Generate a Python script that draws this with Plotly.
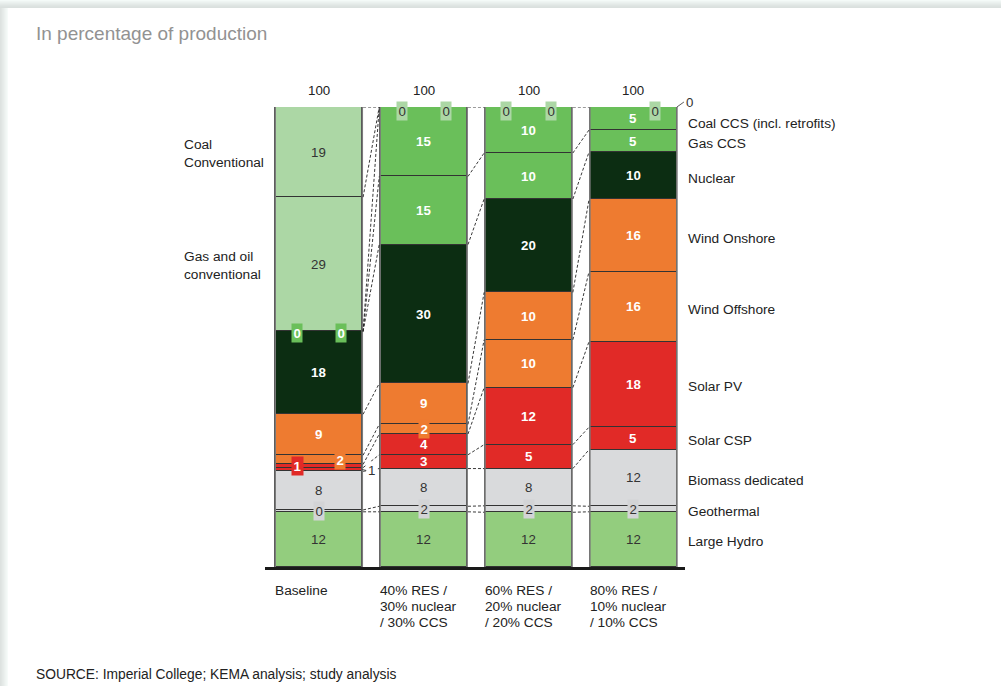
import plotly.graph_objects as go

# ---------------- data ----------------
columns = ["Baseline",
           "40% RES /<br>30% nuclear<br>/ 30% CCS",
           "60% RES /<br>20% nuclear<br>/ 20% CCS",
           "80% RES /<br>10% nuclear<br>/ 10% CCS"]
totals = ["100", "100", "100", "100"]

# stacked bottom -> top
large_hydro   = [12.0, 12.0, 11.9, 12.0]
geothermal    = [0.4, 1.2, 1.4, 1.2]
biomass       = [8.4, 8.2, 8.1, 12.3]
solar_csp     = [0.8, 3.0, 5.2, 4.9]
solar_pv      = [0.7, 4.5, 12.4, 18.6]
wind_offshore = [2.0, 2.1, 10.4, 15.2]
wind_onshore  = [8.9, 8.9, 10.3, 15.7]
nuclear       = [18.0, 30.2, 20.3, 10.3]
gas_ccs       = [0.0, 14.8, 10.0, 4.8]
coal_ccs      = [0.0, 15.1, 10.0, 5.0]
gas_oil_conv  = [29.2, 0.0, 0.0, 0.0]
coal_conv     = [19.6, 0.0, 0.0, 0.0]

# displayed (rounded) labels
lbl_large_hydro   = ["12", "12", "12", "12"]
lbl_geothermal    = ["0", "2", "2", "2"]
lbl_biomass       = ["8", "8", "8", "12"]
lbl_solar_csp     = ["1", "3", "5", "5"]
lbl_solar_pv      = ["1", "4", "12", "18"]
lbl_wind_offshore = ["2", "2", "10", "16"]
lbl_wind_onshore  = ["9", "9", "10", "16"]
lbl_nuclear       = ["18", "30", "20", "10"]
lbl_gas_ccs       = ["0", "15", "10", "5"]
lbl_coal_ccs      = ["0", "15", "10", "5"]
lbl_gas_oil_conv  = ["29", "0", "0", "0"]
lbl_coal_conv     = ["19", "0", "0", "0"]

right_names = ["Large Hydro", "Geothermal", "Biomass dedicated", "Solar CSP",
               "Solar PV", "Wind Offshore", "Wind Onshore", "Nuclear",
               "Gas CCS", "Coal CCS (incl. retrofits)"]
left_names = ["Gas and oil<br>conventional", "Coal<br>Conventional"]

title_text = "In percentage of production"
source_text = "SOURCE: Imperial College; KEMA analysis; study analysis"

# ---------------- styles ----------------
FONT = "Liberation Sans, Arial, sans-serif"
W, H = 1001, 686
L, T, R, B = 256, 107, 305, 119
PW, PH = W - L - R, H - T - B
BAR_W = 0.83
XR = [-0.598, 3.597]
FS = 13.7      # label text size
FSN = 13.3     # number size

C_LIGHTGREEN = "#acd7a5"
C_CCS = "#6abf5a"
C_NUC = "#0c2d12"
C_ORANGE = "#ee7b30"
C_RED = "#e12a27"
C_GRAY = "#d9dadc"
C_HYDRO = "#93cd7e"

series = [
    ("Large Hydro", large_hydro, lbl_large_hydro, C_HYDRO, "dark"),
    ("Geothermal", geothermal, lbl_geothermal, C_GRAY, "dark"),
    ("Biomass dedicated", biomass, lbl_biomass, C_GRAY, "dark"),
    ("Solar CSP", solar_csp, lbl_solar_csp, C_RED, "light"),
    ("Solar PV", solar_pv, lbl_solar_pv, C_RED, "light"),
    ("Wind Offshore", wind_offshore, lbl_wind_offshore, C_ORANGE, "light"),
    ("Wind Onshore", wind_onshore, lbl_wind_onshore, C_ORANGE, "light"),
    ("Nuclear", nuclear, lbl_nuclear, C_NUC, "light"),
    ("Gas CCS", gas_ccs, lbl_gas_ccs, C_CCS, "light"),
    ("Coal CCS", coal_ccs, lbl_coal_ccs, C_CCS, "light"),
    ("Gas and oil conventional", gas_oil_conv, lbl_gas_oil_conv, C_LIGHTGREEN, "dark"),
    ("Coal conventional", coal_conv, lbl_coal_conv, C_LIGHTGREEN, "dark"),
]

xs = list(range(len(columns)))

def px_x(p):
    return (p - L) / PW

def px_y(p):
    return (H - B - p) / PH

fig = go.Figure()

# card background / shadow
shapes = []
for j in range(8):
    g = int(224 + (255 - 224) * (j / 8.0) ** 1.2)
    col = "rgb(%d,%d,%d)" % (g - 6, g, g - 2)
    shapes.append(dict(type="rect", xref="paper", yref="paper",
                       x0=px_x(0), x1=px_x(W), y0=px_y(8 - j), y1=px_y(7 - j),
                       fillcolor=col, line=dict(width=0), layer="below"))
for j in range(8):
    g = int(226 + (255 - 226) * (j / 8.0))
    col = "rgb(%d,%d,%d)" % (g - 5, g, g - 2)
    shapes.append(dict(type="rect", xref="paper", yref="paper",
                       x0=px_x(j), x1=px_x(j + 1), y0=px_y(H), y1=px_y(8),
                       fillcolor=col, line=dict(width=0), layer="below"))

# bars
for name, vals, lbls, color, tone in series:
    fig.add_trace(go.Bar(x=xs, y=vals, width=BAR_W, name=name,
                         marker=dict(color=color, line=dict(color="#333333", width=1)),
                         hoverinfo="name+y", showlegend=False))

# cumulative tops
cum_top = []
running = [0.0] * len(xs)
for name, vals, lbls, color, tone in series:
    bottoms = running[:]
    running = [running[i] + vals[i] for i in xs]
    cum_top.append((bottoms, running[:]))

# gray side outlines of each bar
for i in xs:
    for side in (-1, 1):
        shapes.append(dict(type="line", xref="x", yref="y",
                           x0=i + side * BAR_W / 2, x1=i + side * BAR_W / 2,
                           y0=0, y1=running[i],
                           line=dict(color="#7a7a7a", width=1.6)))

# dashed connectors between bars
seen = set()
for k, (bots, tops) in enumerate(cum_top):
    for i in range(len(xs) - 1):
        key = (i, round(tops[i], 3), round(tops[i + 1], 3))
        if key in seen:
            continue
        seen.add(key)
        shapes.append(dict(type="line", xref="x", yref="y",
                           x0=i + BAR_W / 2 + 0.008, x1=i + 1 - BAR_W / 2 - 0.008,
                           y0=tops[i], y1=tops[i + 1],
                           line=dict(color="#222222", width=0.9, dash="3px,2px")))

# bottom axis line
shapes.append(dict(type="line", xref="paper", yref="paper", x0=px_x(265), x1=px_x(685),
                   y0=px_y(568.5), y1=px_y(568.5), line=dict(color="#1a1a1a", width=3)))

annotations = []

def seg_label(text, x, y, tone, bg=None, yshift=0):
    if tone == "light":
        font = dict(family=FONT, size=FSN, color="white")
        text = "<b>%s</b>" % text
    else:
        font = dict(family=FONT, size=FSN, color="#333333")
    a = dict(x=x, y=y, xref="x", yref="y", text=text, showarrow=False,
             font=font, xanchor="center", yanchor="middle", yshift=yshift)
    if bg:
        a.update(bgcolor=bg, borderpad=1.5)
    return a

# special placements (style only)
zero_box_dx = {("Gas CCS", 0): -0.21, ("Coal CCS", 0): 0.21,
               ("Gas and oil conventional", 1): -0.21, ("Coal conventional", 1): 0.21,
               ("Gas and oil conventional", 2): -0.21, ("Coal conventional", 2): 0.21,
               ("Gas and oil conventional", 3): 0.21}
small_box = {("Solar PV", 0): (-0.205, C_RED), ("Wind Offshore", 0): (0.2, C_ORANGE),
             ("Wind Offshore", 1): (0.0, C_ORANGE)}
outside_arrow = {("Solar CSP", 0): (4, 1), ("Coal conventional", 3): (7, -5)}

for k, (name, vals, lbls, color, tone) in enumerate(series):
    bots, tops = cum_top[k]
    for i in xs:
        key = (name, i)
        mid = (bots[i] + tops[i]) / 2
        if key in outside_arrow:
            ax, ay = outside_arrow[key]
            annotations.append(dict(x=i + BAR_W / 2, y=mid, xref="x", yref="y",
                                    text=lbls[i], showarrow=True, arrowhead=0,
                                    arrowwidth=0.8, arrowcolor="#333333",
                                    ax=ax, ay=ay, xanchor="left", yanchor="middle",
                                    bgcolor="white" if ay >= 0 else None,
                                    font=dict(family=FONT, size=FSN, color="#333333")))
        elif key in zero_box_dx:
            if name in ("Gas CCS", "Coal CCS"):
                annotations.append(seg_label(lbls[i], i + zero_box_dx[key], mid, "light",
                                             bg=C_CCS, yshift=-2))
            else:
                annotations.append(seg_label(lbls[i], i + zero_box_dx[key], mid, "dark",
                                             bg=C_LIGHTGREEN, yshift=-4))
        elif key in small_box:
            dx, bg = small_box[key]
            annotations.append(seg_label(lbls[i], i + dx, mid, "light", bg=bg))
        elif name == "Geothermal":
            annotations.append(seg_label(lbls[i], i, mid, "dark", bg="#d3d4d6"))
        elif vals[i] > 0:
            annotations.append(seg_label(lbls[i], i, mid, tone))

# totals above bars
for i in xs:
    annotations.append(dict(x=i, y=running[i], xref="x", yref="y", text=totals[i],
                            showarrow=False, yanchor="bottom", yshift=7,
                            font=dict(family=FONT, size=FSN, color="#222222")))

# right labels (aligned to last column)
last = len(xs) - 1
right_shift = {"Coal CCS (incl. retrofits)": -5}
for k, nm in enumerate(right_names):
    bots, tops = cum_top[k]
    annotations.append(dict(x=3.50, y=(bots[last] + tops[last]) / 2, xref="x", yref="y",
                            text=nm, showarrow=False, xanchor="left", yanchor="middle",
                            yshift=right_shift.get(nm, -2.5),
                            font=dict(family=FONT, size=FS, color="#222222")))

# left labels (aligned to first column)
for j, nm in enumerate(left_names):
    bots, tops = cum_top[len(right_names) + j]
    ymid = (bots[0] + tops[0]) / 2
    annotations.append(dict(x=px_x(182), y=ymid / 100.0, xref="paper", yref="paper",
                            text=nm, showarrow=False, xanchor="left", yanchor="middle",
                            align="left", yshift=-1.5,
                            font=dict(family=FONT, size=FS, color="#222222")))

# category labels (one annotation per line for tighter line spacing)
for i, c in enumerate(columns):
    for ln, part in enumerate(c.split("<br>")):
        annotations.append(dict(x=i - BAR_W / 2 - 0.02, y=px_y(590 + 16 * ln),
                                xref="x", yref="paper",
                                text=part, showarrow=False, xanchor="left", yanchor="middle",
                                font=dict(family=FONT, size=FS, color="#222222")))

# title and source
annotations.append(dict(x=px_x(34), y=px_y(33), xref="paper", yref="paper",
                        text=title_text, showarrow=False, xanchor="left", yanchor="middle",
                        font=dict(family=FONT, size=19, color="#929292")))
annotations.append(dict(x=px_x(34), y=px_y(674), xref="paper", yref="paper",
                        text=source_text, showarrow=False, xanchor="left", yanchor="middle",
                        font=dict(family=FONT, size=13.8, color="#222222")))

fig.update_layout(
    width=W, height=H,
    margin=dict(l=L, r=R, t=T, b=B),
    barmode="stack", bargap=0,
    plot_bgcolor="white", paper_bgcolor="white",
    xaxis=dict(range=XR, visible=False, fixedrange=True),
    yaxis=dict(range=[0, 100], visible=False, fixedrange=True),
    shapes=shapes, annotations=annotations,
    showlegend=False,
    font=dict(family=FONT),
)

fig.write_html("out.html", config={"displayModeBar": False},
               post_script="document.body.style.margin='0';document.body.style.padding='0';document.body.style.overflow='hidden';")
